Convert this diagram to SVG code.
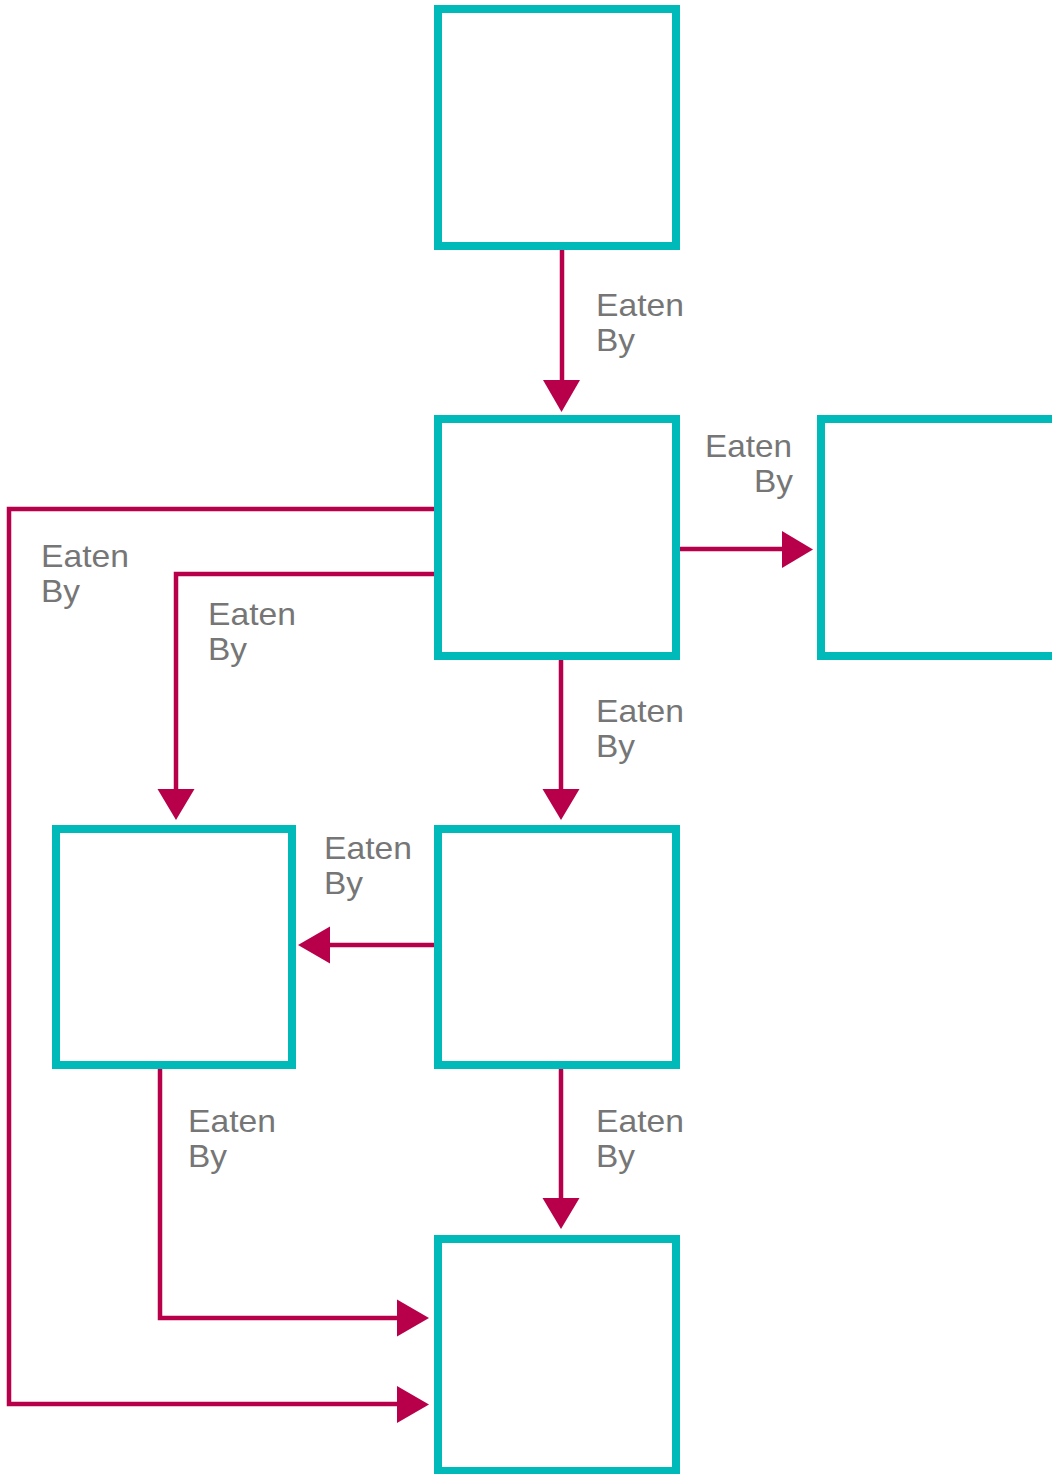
<svg xmlns="http://www.w3.org/2000/svg" width="1052" height="1474" viewBox="0 0 1052 1474">
<defs>
<style>
.box{fill:#fff;stroke:#00B9B9;stroke-width:8}
.c{fill:none;stroke:#B8004A;stroke-width:4.5}
.ah{fill:#B8004A}
.t{font-family:"Liberation Sans",Arial,sans-serif;font-size:30.5px;font-weight:normal;fill:#767676}
</style>
</defs>
<rect width="1052" height="1474" fill="#fff"/>
<g id="connectors">
<path class="c" d="M562 249 V382"/>
<polygon class="ah" points="543,380 580,380 561.5,412"/>
<path class="c" d="M680 549 H784"/>
<polygon class="ah" points="782,531 782,568 813,549.5"/>
<path class="c" d="M434 509 H9 V1404 H399"/>
<polygon class="ah" points="397,1386 397,1423 429,1404.5"/>
<path class="c" d="M434 574 H176 V791"/>
<polygon class="ah" points="157.5,789 194.5,789 176,820"/>
<path class="c" d="M561 659 V791"/>
<polygon class="ah" points="542.5,789 579.5,789 561,820"/>
<path class="c" d="M434 945 H328"/>
<polygon class="ah" points="330,926.5 330,963.5 298,945"/>
<path class="c" d="M561 1069 V1200"/>
<polygon class="ah" points="542.5,1198 579.5,1198 561,1229"/>
<path class="c" d="M160 1069 V1318 H399"/>
<polygon class="ah" points="397,1299.5 397,1336.5 429,1318"/>
</g>
<g id="n1"><rect class="box" x="438" y="9" width="238" height="237"/></g>
<g id="n2"><rect class="box" x="438" y="419" width="238" height="237"/></g>
<g id="n3"><rect class="box" x="821" y="419" width="240" height="237"/></g>
<g id="n4"><rect class="box" x="56" y="829" width="236" height="236"/></g>
<g id="n5"><rect class="box" x="438" y="829" width="238" height="236"/></g>
<g id="n6"><rect class="box" x="438" y="1239" width="238" height="232"/></g>
<g id="labels">
<text class="t"><tspan x="596" y="316" textLength="88" lengthAdjust="spacingAndGlyphs">Eaten</tspan><tspan x="596" y="351" textLength="39" lengthAdjust="spacingAndGlyphs">By</tspan></text>
<text class="t"><tspan x="705" y="457" textLength="87" lengthAdjust="spacingAndGlyphs">Eaten</tspan><tspan x="754" y="492" textLength="39" lengthAdjust="spacingAndGlyphs">By</tspan></text>
<text class="t"><tspan x="41" y="567" textLength="88" lengthAdjust="spacingAndGlyphs">Eaten</tspan><tspan x="41" y="602" textLength="39" lengthAdjust="spacingAndGlyphs">By</tspan></text>
<text class="t"><tspan x="208" y="625" textLength="88" lengthAdjust="spacingAndGlyphs">Eaten</tspan><tspan x="208" y="660" textLength="39" lengthAdjust="spacingAndGlyphs">By</tspan></text>
<text class="t"><tspan x="596" y="722" textLength="88" lengthAdjust="spacingAndGlyphs">Eaten</tspan><tspan x="596" y="757" textLength="39" lengthAdjust="spacingAndGlyphs">By</tspan></text>
<text class="t"><tspan x="324" y="859" textLength="88" lengthAdjust="spacingAndGlyphs">Eaten</tspan><tspan x="324" y="894" textLength="39" lengthAdjust="spacingAndGlyphs">By</tspan></text>
<text class="t"><tspan x="188" y="1132" textLength="88" lengthAdjust="spacingAndGlyphs">Eaten</tspan><tspan x="188" y="1167" textLength="39" lengthAdjust="spacingAndGlyphs">By</tspan></text>
<text class="t"><tspan x="596" y="1132" textLength="88" lengthAdjust="spacingAndGlyphs">Eaten</tspan><tspan x="596" y="1167" textLength="39" lengthAdjust="spacingAndGlyphs">By</tspan></text>
</g>
</svg>
